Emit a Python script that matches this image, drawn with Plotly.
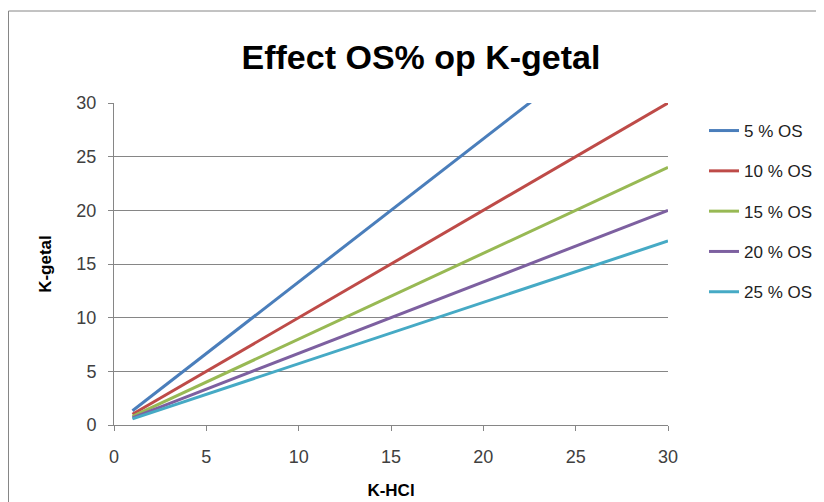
import plotly.graph_objects as go

# K-HCl (x) and K-getal (y) per OS percentage
k_hcl = [1, 30]
series_names = ["5 % OS", "10 % OS", "15 % OS", "20 % OS", "25 % OS"]
os5 = [1.33, 40.0]
os10 = [1.0, 30.0]
os15 = [0.8, 24.0]
os20 = [0.67, 20.0]
os25 = [0.57, 17.14]
x_ticks = [0, 5, 10, 15, 20, 25, 30]
y_ticks = [0, 5, 10, 15, 20, 25, 30]

colors = ["#4A7EBB", "#BE4B48", "#98B954", "#7D60A0", "#46AAC5"]
FONT = "Liberation Sans, Arial, sans-serif"
GRAY = "#868686"

fig = go.Figure()
for i, (name, ys) in enumerate(zip(series_names, [os5, os10, os15, os20, os25])):
    fig.add_trace(go.Scatter(
        x=k_hcl, y=ys, name=name, mode="lines",
        line=dict(color=colors[i], width=3),
        legendgroup=f"g{i}",
    ))

# page body has an 8px margin, so figure coords = page coords - 8
OFF = 8
W, H = 824 - OFF, 502 - OFF
L, T = 114 - OFF, 103 - OFF
pw, ph = 668 - 114, 425 - 103
R = W - L - pw
B = H - T - ph

def px_x(page_x):
    return (page_x - OFF - L) / pw

def px_y(page_y):
    return (H - B - (page_y - OFF)) / ph

# outer chart frame (cropped on right and bottom in the reference)
fig.add_shape(
    type="rect", xref="paper", yref="paper",
    x0=px_x(8.5), x1=px_x(900),
    y0=px_y(600), y1=px_y(11),
    line=dict(color=GRAY, width=1), fillcolor="rgba(0,0,0,0)", layer="below",
)

fig.update_layout(
    width=W, height=H,
    margin=dict(l=L, r=R, t=T, b=B, autoexpand=False),
    paper_bgcolor="white", plot_bgcolor="white",
    font=dict(family=FONT, color="#222222"),
    title=dict(
        text="<b>Effect OS% op K-getal</b>",
        x=px_x(421), xref="paper", xanchor="center",
        y=(H - (57 - OFF)) / H, yref="container", yanchor="middle",
        font=dict(size=34, color="#000000", family=FONT),
    ),
    xaxis=dict(
        range=[0, 30], tickvals=x_ticks, showgrid=False, zeroline=False,
        showline=True, linecolor=GRAY, linewidth=1,
        ticks="outside", ticklen=5, tickcolor=GRAY,
        ticklabelstandoff=10,
        tickfont=dict(size=18, color="#404040"),
        title=dict(text="<b>K-HCl</b>", font=dict(size=17, color="#000000"), standoff=18),
    ),
    yaxis=dict(
        range=[0, 30], tickvals=y_ticks, showgrid=True, gridcolor=GRAY, gridwidth=1,
        zeroline=False, showline=True, linecolor=GRAY, linewidth=1,
        ticks="outside", ticklen=5, tickcolor=GRAY,
        ticklabelstandoff=8,
        tickfont=dict(size=18, color="#404040"),
        title=dict(text="<b>K-getal</b>", font=dict(size=17, color="#000000"), standoff=20),
    ),
    legend=dict(
        x=px_x(704), xanchor="left",
        y=px_y(113), yanchor="top",
        font=dict(size=17, color="#222222"),
        traceorder="grouped", tracegroupgap=15.2,
        bgcolor="rgba(0,0,0,0)",
    ),
    showlegend=True,
)

fig.write_html("out.html")
